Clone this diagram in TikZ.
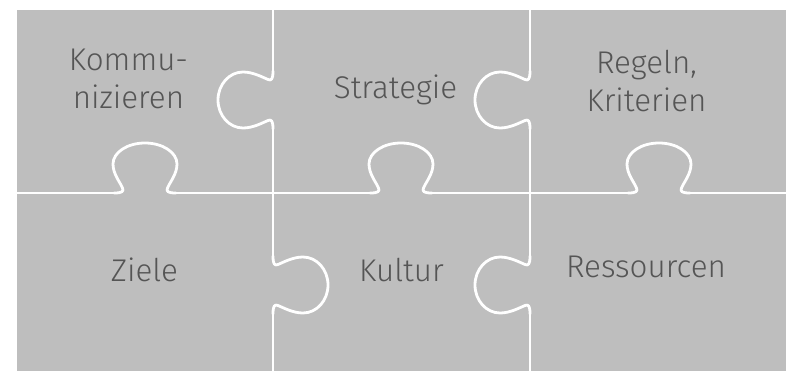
\documentclass[tikz,border=0pt]{standalone}
\usepackage{fontspec}
\IfFontExistsTF{Fira Sans Light}{\setmainfont{Fira Sans Light}}{%
  \IfFontExistsTF{FiraSans-Light.otf}{\setmainfont{FiraSans-Light.otf}}{\setmainfont{Fira Sans}}}
\definecolor{puzgray}{RGB}{190,190,190}
\definecolor{txtgray}{RGB}{85,85,85}
\begin{document}
\begin{tikzpicture}[x=1bp,y=-1bp,
  seam/.style={draw=white, line width=2.8bp, line cap=round, line join=round},
  lbl/.style={text=txtgray, font=\fontsize{31.5}{38}\selectfont, align=center, inner sep=0pt, anchor=base},
  pics/tab/.style n args={4}{code={%
    \draw[seam] ({-#1-10},0) .. controls ({-#1-2},0) and ({-#1},1.5) .. ({-#1-1.5},5)
      .. controls ({-#1-4},11) and ({-#2},{#3-10}) .. ({-#2},{#3})
      .. controls ({-#2},{#3+0.552*(#4-#3)}) and ({-0.552*#2},{#4}) .. (0,{#4})
      .. controls ({0.552*#2},{#4}) and ({#2},{#3+0.552*(#4-#3)}) .. ({#2},{#3})
      .. controls ({#2},{#3-10}) and ({#1+4},11) .. ({#1+1.5},5)
      .. controls ({#1},1.5) and ({#1+2},0) .. ({#1+10},0);}}]
\useasboundingbox (0,0) rectangle (786,371);
\fill[puzgray] (17,10) rectangle (786,371);
% horizontal seam
\draw[seam] (17,193) -- (114,193);
\draw[seam] (176,193) -- (370,193);
\draw[seam] (432,193) -- (628,193);
\draw[seam] (690,193) -- (786,193);
\pic[rotate=180] at (145,193) {tab={21}{32}{29}{50}};
\pic[rotate=180] at (401,193) {tab={21}{32}{29}{50}};
\pic[rotate=180] at (659,193) {tab={21}{32}{29}{50}};
% vertical seams
\draw[seam] (273,10) -- (273,71);
\draw[seam] (273,129) -- (273,256);
\draw[seam] (273,314) -- (273,371);
\draw[seam] (530,10) -- (530,71);
\draw[seam] (530,129) -- (530,256);
\draw[seam] (530,314) -- (530,371);
\pic[rotate=-90] at (273,100) {tab={19}{28}{30}{55}};
\pic[rotate=90] at (273,285) {tab={19}{28}{30}{55}};
\pic[rotate=-90] at (530,100) {tab={19}{28}{30}{55}};
\pic[rotate=-90] at (530,285) {tab={19}{28}{30}{55}};
% labels (two-line nodes are anchored at the baseline of their last line)
\node[lbl] (komm) at (128.5,108) {Kommu-\\nizieren};
\node[lbl] (strat) at (395.5,98) {Strategie};
\node[lbl] (regeln) at (646.5,111) {Regeln,\\Kriterien};
\node[lbl] (ziele) at (144.5,281) {Ziele};
\node[lbl] (kultur) at (401.5,281) {Kultur};
\node[lbl] (ress) at (646,277) {Ressourcen};
\end{tikzpicture}
\end{document}
